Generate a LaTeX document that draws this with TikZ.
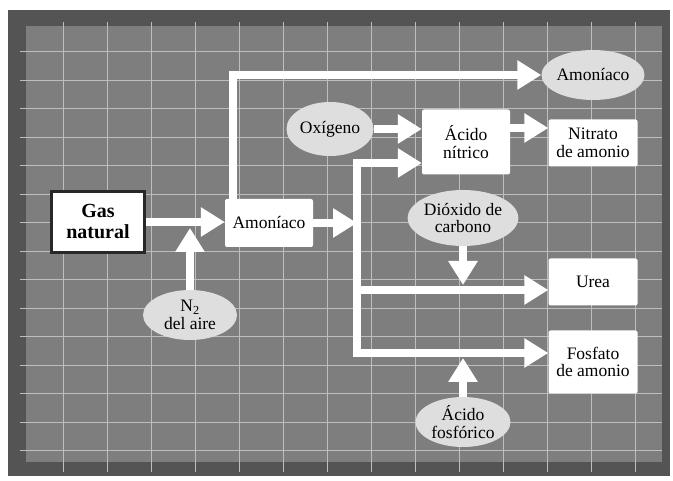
\documentclass[tikz,border=0pt]{standalone}
\usepackage{fontspec}
\setmainfont{Liberation Serif}
\usetikzlibrary{shapes.geometric, arrows.meta, positioning}
\definecolor{panelband}{RGB}{84,84,84}
\definecolor{panel}{RGB}{126,126,126}
\definecolor{gridline}{RGB}{190,190,190}
\definecolor{bubble}{RGB}{222,222,222}
\definecolor{gasframe}{RGB}{40,40,40}
\tikzset{
  source/.style={rectangle, fill=white, draw=gasframe, line width=3.5pt, align=center,
    minimum width=93pt, minimum height=61pt, font=\fontsize{20}{21}\selectfont\bfseries},
  product/.style={rectangle, fill=white, rounded corners=2pt, align=center, inner sep=2pt,
    minimum width=89pt, font=\fontsize{17.5}{17.5}\selectfont},
  input/.style={ellipse, fill=bubble, align=center, inner sep=0pt,
    font=\fontsize{17.5}{17.5}\selectfont},
  gridline/.style={draw=gridline, line width=1pt},
  flow/.style={draw=white, line width=8pt, -{Triangle[length=24pt,width=28pt]}},
  pipe/.style={draw=white, line width=8pt, line cap=rect},
}

\begin{document}
\begin{tikzpicture}[x=1pt, y=-1pt]
        \useasboundingbox (0,0) rectangle (673,481);
        % panel and grid
        \fill[panelband] (8,10) rectangle (670,476);
        \fill[panel] (26,26) rectangle (662,462);
        \foreach \gx in {63,107,...,635} \draw[gridline] (\gx,22) -- (\gx,472);
        \foreach \gy in {52,80.5,...,451} \draw[gridline] (20,\gy) -- (662,\gy);

        \node[source] (gas) at (98,222) {Gas\\natural};
        \node[product, minimum width=88pt, minimum height=48pt] (amon) at (269,223) {Amoníaco};
        \node[input, minimum width=94pt, minimum height=50pt] (nitro) at (190,315) {N\textsubscript{2}\\del aire};
        \node[input, minimum width=90pt, minimum height=50pt] (amongas) at (593,75) {Amoníaco};
        \node[input, minimum width=87pt, minimum height=54pt] (oxi) at (330,129) {Oxígeno};
        \node[product, minimum width=88pt, minimum height=65pt] (nitrico) at (466,142) {Ácido\\nítrico};
        \node[product, minimum height=47pt] (nitrato) at (593,143) {Nitrato\\de amonio};
        \node[input, minimum width=99pt, minimum height=56pt] (dioxido) at (463,218) {Dióxido de\\carbono};
        \node[product, minimum height=47pt] (urea) at (593,282) {Urea};
        \node[product, minimum height=63pt] (fosfato) at (593,362) {Fosfato\\de amonio};
        \node[input, minimum width=95pt, minimum height=50pt] (fosforico) at (463,422) {Ácido\\fosfórico};

        \coordinate (trunktop) at (357,163);
        \coordinate (trunkmid) at (357,290);
        \coordinate (trunkbot) at (357,353);
        \coordinate (n2in) at (190,228);
        \coordinate (co2in) at (463,285);
        \coordinate (acidin) at (463,358);

        \draw[flow] (gas.east) -- (gas.east -| amon.west);
        \draw[flow] (nitro.north) -- (n2in);
        \draw[flow] ([xshift=8pt]amon.north west) |- (amongas.west);
        \draw[flow] (oxi.east) -- (oxi.east -| nitrico.west);
        \draw[flow] (nitrico.east |- 0,128) -- (nitrato.west |- 0,128);
        \draw[flow] (amon.east) -- (amon.east -| trunktop);
        \draw[pipe] (trunktop) -- (trunkbot);
        \draw[flow] (trunktop) -- (trunktop -| nitrico.west);
        \draw[flow] (trunkmid) -- (trunkmid -| urea.west);
        \draw[flow] (trunkbot) -- (trunkbot -| fosfato.west);
        \draw[flow] (dioxido.south) -- (co2in);
        \draw[flow] (fosforico.north) -- (acidin);
    \end{tikzpicture}
\end{document}
